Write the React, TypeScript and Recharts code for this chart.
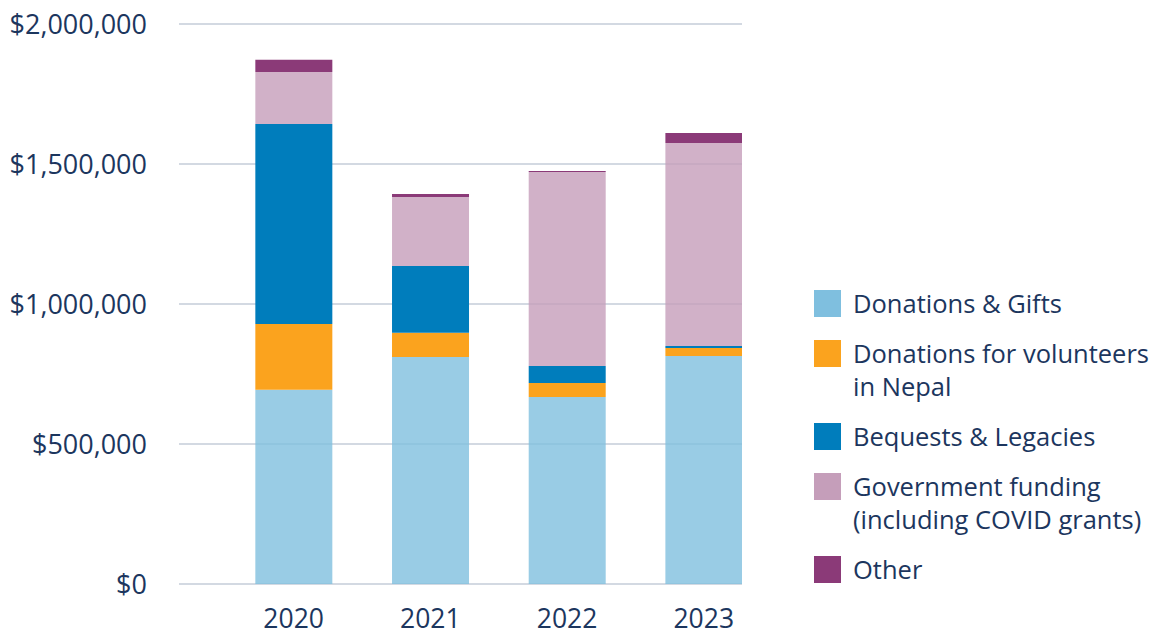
import React from 'react';
import { BarChart, Bar, XAxis, YAxis, CartesianGrid, Legend } from 'recharts';

const years = [2020, 2021, 2022, 2023];
const donationsGifts = [694000, 811000, 668000, 814000];
const donationsVolunteers = [235000, 86000, 50000, 29000];
const bequests = [714000, 239000, 61000, 7000];
const government = [186000, 246000, 692000, 725000];
const other = [43000, 11000, 4000, 36000];
const yTicks = [0, 500000, 1000000, 1500000, 2000000];

const seriesKeys = ['gifts', 'volunteers', 'bequests', 'government', 'other'];
const seriesNames = [
  'Donations & Gifts',
  'Donations for volunteers\nin Nepal',
  'Bequests & Legacies',
  'Government funding\n(including COVID grants)',
  'Other',
];
const seriesColors = ['#7FBFDF', '#FBA31E', '#007DBC', '#C59EBA', '#8B3A78'];
const seriesOpacity = [0.8, 1, 1, 0.8, 1];

const data = years.map((year, i) => ({
  year,
  gifts: donationsGifts[i],
  volunteers: donationsVolunteers[i],
  bequests: bequests[i],
  government: government[i],
  other: other[i],
}));

const TEXT = '#1C365E';
const FONT = '"Open Sans", "Noto Sans", sans-serif';

const LegendContent = () => (
  <div style={{ fontFamily: FONT, color: TEXT, fontSize: 25.5, lineHeight: '33px' }}>
    {seriesNames.map((name, i) => (
      <div key={name} style={{ display: 'flex', alignItems: 'flex-start', marginBottom: 17 }}>
        <div
          style={{
            width: 27,
            height: 27,
            marginTop: 3,
            marginRight: 12,
            flex: '0 0 27px',
            background: seriesColors[i],
          }}
        />
        <div style={{ whiteSpace: 'pre-line' }}>{name}</div>
      </div>
    ))}
  </div>
);

export default function App() {
  return (
    <div style={{ position: 'absolute', left: 0, top: 0, width: 1160, height: 631 }}>
      <BarChart
        width={1160}
        height={631}
        data={data}
        margin={{ top: 24, right: 418, left: 0, bottom: 0 }}
      >
        <CartesianGrid vertical={false} stroke="#C5CDD8" strokeWidth={1.5} />
        <XAxis
          dataKey="year"
          type="number"
          domain={[2019.161, 2023.28]}
          allowDataOverflow
          ticks={years}
          tickFormatter={(v) => String(v)}
          axisLine={false}
          tickLine={false}
          tickSize={0}
          tickMargin={25}
          height={47}
          tick={{ fill: TEXT, fontSize: 26.5, fontFamily: FONT }}
        />
        <YAxis
          domain={[0, 2000000]}
          ticks={yTicks}
          tickFormatter={(v) => '$' + Number(v).toLocaleString('en-US')}
          axisLine={false}
          tickLine={false}
          tickSize={0}
          tickMargin={32}
          width={179}
          tick={{ fill: TEXT, fontSize: 27, fontFamily: FONT }}
        />
        <Legend
          layout="vertical"
          align="center"
          verticalAlign="middle"
          content={<LegendContent />}
          wrapperStyle={{ position: 'absolute', left: 814, top: 287, width: 346 }}
        />
        {seriesKeys.map((key, i) => (
          <Bar
            key={key}
            dataKey={key}
            name={seriesNames[i]}
            stackId="a"
            fill={seriesColors[i]}
            fillOpacity={seriesOpacity[i]}
            barSize={77}
            isAnimationActive={false}
          />
        ))}
      </BarChart>
    </div>
  );
}
